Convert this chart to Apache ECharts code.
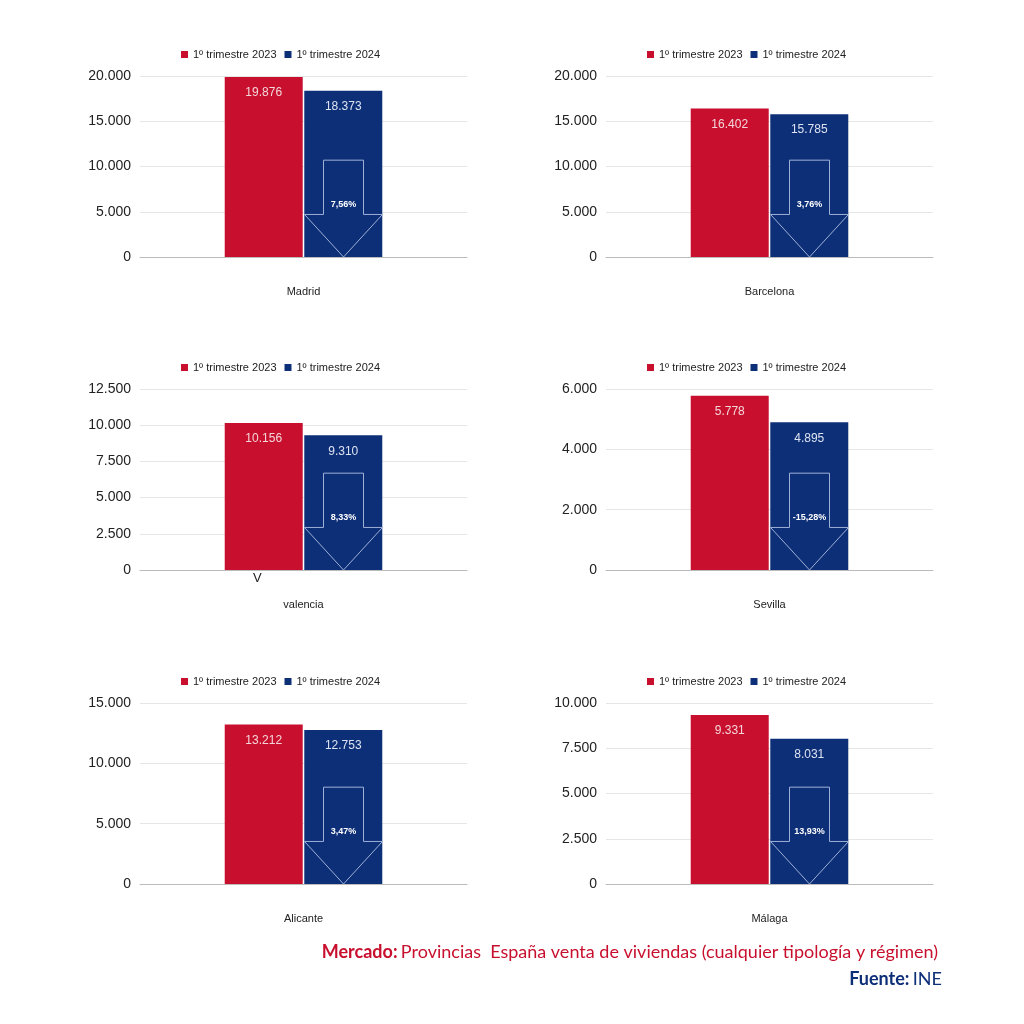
<!DOCTYPE html>
<html><head><meta charset="utf-8">
<script src="https://cdn.jsdelivr.net/npm/echarts@6/dist/echarts.min.js"></script>
<style>html,body{margin:0;background:#fff}#c{width:1024px;height:1024px}</style>
</head><body><div id="c"></div>
<script>
var provincias = ['Madrid', 'Barcelona', 'valencia', 'Sevilla', 'Alicante', 'Málaga'];
var t2023 = [19876, 16402, 10156, 5778, 13212, 9331];
var t2024 = [18373, 15785, 9310, 4895, 12753, 8031];
var variacion = ['7,56%', '3,76%', '8,33%', '-15,28%', '3,47%', '13,93%'];
var ejeMax = [20000, 20000, 12500, 6000, 15000, 10000];
var ejeIntervalo = [5000, 5000, 2500, 2000, 5000, 2500];
var serieNombres = ['1º trimestre 2023', '1º trimestre 2024'];

var ROJO = '#c8102e', AZUL = '#0d2f78';
var font = 'Liberation Sans';
var chart = echarts.init(document.getElementById('c'));
var grids = [], xAxes = [], yAxes = [], series = [], legends = [], graphics = [];
var lefts = [140, 606], tops = [76, 389, 703], W = 327, H = 181;

function fmt(v) { return String(v).replace(/\B(?=(\d{3})+(?!\d))/g, '.'); }

provincias.forEach(function (p, i) {
  var col = i % 2, row = Math.floor(i / 2);
  grids.push({ left: lefts[col], top: tops[row], width: W, height: H });
  xAxes.push({ gridIndex: i, type: 'category', data: [p],
    axisLine: { lineStyle: { color: '#bbb' } }, axisTick: { show: false },
    axisLabel: { margin: 29, color: '#222', fontSize: 11, fontFamily: font } });
  yAxes.push({ gridIndex: i, type: 'value', min: 0, max: ejeMax[i], interval: ejeIntervalo[i],
    axisLabel: { color: '#222', fontSize: 14, fontFamily: font, margin: 9, formatter: fmt },
    splitLine: { lineStyle: { color: '#e6e6e6' } } });
  legends.push({ top: tops[row] - 32, left: lefts[col] + W / 2 - 2, orient: 'horizontal',
    itemWidth: 7, itemHeight: 7, itemGap: 8, icon: 'rect',
    left: lefts[col] + 36, textStyle: { fontSize: 11, fontFamily: font, color: '#222' },
    data: serieNombres });
  series.push({ name: serieNombres[0], type: 'bar', xAxisIndex: i, yAxisIndex: i,
    data: [t2023[i]], barWidth: 78, barGap: '2%', itemStyle: { color: ROJO },
    label: { show: true, position: 'insideTop', distance: 10, color: '#f3d6da', fontSize: 12, fontFamily: font, formatter: function (d) { return fmt(d.value); } } });
  series.push({ name: serieNombres[1], type: 'bar', xAxisIndex: i, yAxisIndex: i,
    data: [t2024[i]], barWidth: 78, itemStyle: { color: AZUL },
    label: { show: true, position: 'insideTop', distance: 10, color: '#dde3f0', fontSize: 12, fontFamily: font, formatter: function (d) { return fmt(d.value); } } });
  (function (idx) {
    series.push({ type: 'custom', xAxisIndex: idx, yAxisIndex: idx, silent: true, z: 5,
      data: [[0, ejeMax[idx]]],
      renderItem: function (params, api) {
        var m = api.value(1);
        var base = api.coord([0, 0]);
        var cx = base[0] + 40, bw = 78;
        var yTop = api.coord([0, m * 0.535])[1], ySh = api.coord([0, m * 0.235])[1], yTip = base[1];
        var x0 = cx - bw / 2, x1 = cx + bw / 2, s0 = cx - 20, s1 = cx + 20;
        return { type: 'group', children: [
          { type: 'polygon', shape: { points: [[s0, yTop], [s1, yTop], [s1, ySh], [x1, ySh], [cx, yTip], [x0, ySh], [s0, ySh]] },
            style: { fill: 'none', stroke: '#9fb0d6', lineWidth: 1 } },
          { type: 'text', x: cx, y: ySh - 10, style: { text: variacion[idx], fill: '#fff', font: 'bold 9px ' + font, align: 'center', verticalAlign: 'middle' } }
        ] };
      } });
  })(i);
});

graphics.push({ type: 'text', left: 253, top: 572, style: { text: 'V', fill: '#222', font: '13px ' + font } });
graphics.push({ type: 'text', right: 86, top: 943, style: { rich: {
  a: { fill: ROJO, font: 'bold 18px Lato' }, b: { fill: ROJO, font: '18px Lato' } },
  text: '{a|Mercado:} {b|Provincias  España venta de viviendas (cualquier tipología y régimen)}' } });
graphics.push({ type: 'text', right: 82, top: 970, style: { rich: {
  a: { fill: AZUL, font: 'bold 18px Lato' }, b: { fill: AZUL, font: '18px Lato' } },
  text: '{a|Fuente:} {b|INE}' } });

chart.setOption({ animation: false, grid: grids, xAxis: xAxes, yAxis: yAxes,
  legend: legends, series: series, graphic: graphics });
</script></body></html>
